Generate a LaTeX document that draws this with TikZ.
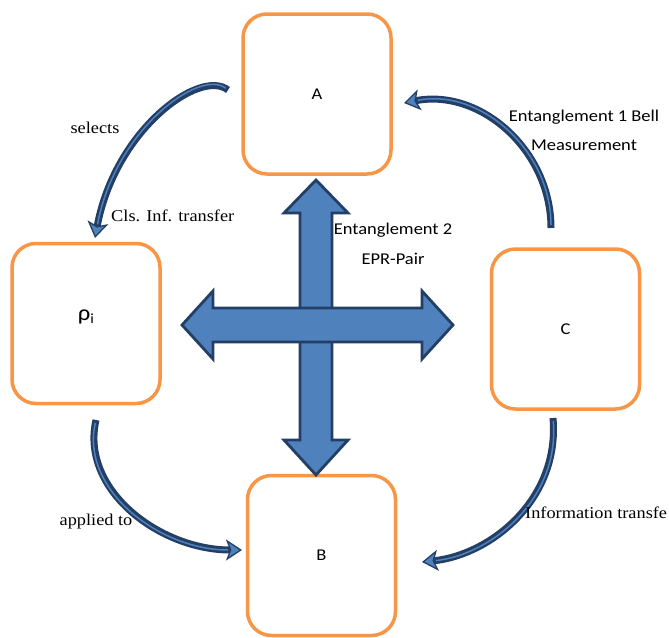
\documentclass[tikz,border=0pt]{standalone}
\usepackage{fontspec}
\setmainfont{Liberation Serif}[FakeStretch=1.11]
\newfontfamily\calib{Carlito}[FakeStretch=1.12]
\usetikzlibrary{arrows.meta,calc}
\definecolor{orng}{HTML}{F79646}
\definecolor{navy}{HTML}{243F66}
\definecolor{ablue}{HTML}{4F81BD}
\begin{document}
\begin{tikzpicture}[x=1pt,y=-1pt,
 box/.style={draw=orng, line width=3.5pt, rounded corners=24pt, minimum width=148pt, minimum height=160pt, fill=white, font=\calib\fontsize{16.5}{20}\selectfont},
 lab/.style={font=\fontsize{16.5}{20}\selectfont, inner sep=0pt},
 clab/.style={font=\calib\fontsize{16.5}{20}\selectfont, inner sep=0pt},
 outerarc/.style={line width=7pt, draw=navy, -{Stealth[length=16pt,width=21pt,inset=4pt,line width=1.3pt,fill=ablue]}},
 innerarc/.style={line width=1.5pt, draw=ablue, shorten >=14pt, shorten <=3pt},
 bigarrow/.style={fill=ablue, draw=navy, line width=2.8pt, line join=miter}
]
\useasboundingbox (0,0) rectangle (669,637);

% boxes
\node[box] (A) at (317,94) {A};
\node[box] (R) at (86,323.5) {};
\node[box] (C) at (565.5,329) {C};
\node[box] (B) at (321.5,555.5) {B};
\node[inner sep=0pt, font=\calib] (Rl) at (86,317) {\fontsize{22}{24}\selectfont ρ\raisebox{-2.5pt}{\fontsize{14}{16}\selectfont i}};

% cross arrows (A <-> B, rho <-> C)
\coordinate (vt) at (316,180);
\coordinate (vb) at (316,475);
\coordinate (hl) at (182,325);
\coordinate (hr) at (453,325);
\draw[bigarrow] (300,213)--(284,213)--(vt)--(348,213)--(332,213)--(332,440)--(348,440)--(vb)--(284,440)--(300,440)--cycle;
\draw[bigarrow] (213,308)--(213,291)--(hl)--(213,359)--(213,342)--(422,342)--(422,359)--(hr)--(422,291)--(422,308)--cycle;

% curved arrows
\coordinate (s0) at (228,90);
\coordinate (s1) at (95,238);
\coordinate (e0) at (551,228);
\coordinate (e1) at (404,103);
\coordinate (a0) at (96,420);
\coordinate (a1) at (242,550);
\coordinate (i0) at (553,418);
\coordinate (i1) at (422,562);

\draw[outerarc] (s0) .. controls (200,68) and (115,130) .. (s1);
\draw[outerarc] (e0) .. controls (551,150) and (480,88) .. (e1);
\draw[outerarc] (a0) .. controls (80,490) and (160,550) .. (a1);
\draw[outerarc] (i0) .. controls (560,500) and (490,555) .. (i1);
\draw[innerarc] (s0) .. controls (200,68) and (115,130) .. (s1);
\draw[innerarc] (e0) .. controls (551,150) and (480,88) .. (e1);
\draw[innerarc] (a0) .. controls (80,490) and (160,550) .. (a1);
\draw[innerarc] (i0) .. controls (560,500) and (490,555) .. (i1);

% labels
\node[lab] (l1) at (95,128) {selects};
\node[lab, anchor=west] (l2) at (111,216) {Cls. Inf. transfer};
\node[clab] (l3) at (584,117) {Entanglement 1 Bell};
\node[clab] (l4) at (584,145) {Measurement};
\node[clab] (l5) at (393,230) {Entanglement 2};
\node[clab] (l6) at (393,259) {EPR-Pair};
\node[lab] (l7) at (96,522) {applied to};
\node[lab, anchor=west] (l8) at (525,513) {Information transfe};
\end{tikzpicture}
\end{document}
